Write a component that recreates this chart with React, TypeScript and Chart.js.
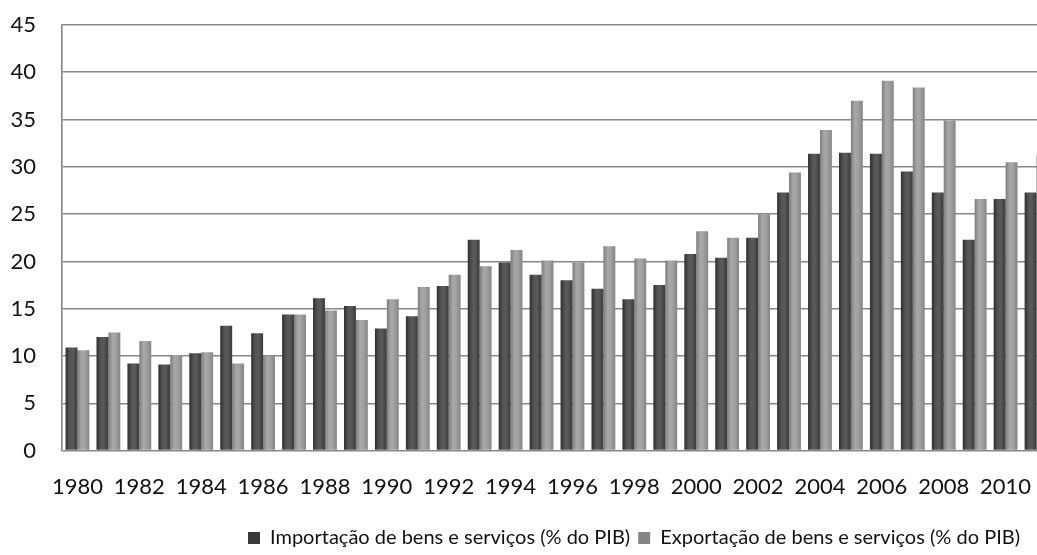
import React, { useEffect, useRef } from "react";
import { Chart, registerables } from "chart.js";
Chart.register(...registerables);

const years = [
  "1980", "1981", "1982", "1983", "1984", "1985", "1986", "1987",
  "1988", "1989", "1990", "1991", "1992", "1993", "1994", "1995",
  "1996", "1997", "1998", "1999", "2000", "2001", "2002", "2003",
  "2004", "2005", "2006", "2007", "2008", "2009", "2010", "2011",
];

const importacao = [
  10.9, 12.0, 9.2, 9.1, 10.3, 13.2, 12.4, 14.4,
  16.1, 15.3, 12.9, 14.2, 17.4, 22.3, 19.9, 18.6,
  18.0, 17.1, 16.0, 17.5, 20.8, 20.4, 22.5, 27.3,
  31.4, 31.5, 31.4, 29.5, 27.3, 22.3, 26.6, 27.3,
];

const exportacao = [
  10.6, 12.5, 11.6, 10.1, 10.4, 9.2, 10.0, 14.4,
  14.8, 13.8, 16.0, 17.3, 18.6, 19.5, 21.2, 20.1,
  19.9, 21.6, 20.3, 20.1, 23.2, 22.5, 25.0, 29.4,
  33.9, 37.0, 39.1, 38.4, 34.9, 26.6, 30.5, 31.2,
];

const seriesNames = [
  "Importação de bens e serviços (% do PIB)",
  "Exportação de bens e serviços (% do PIB)",
];

const FONT = "Lato";
const CAT_PCT = 0.77;

function cylinder(dark: boolean) {
  const solid = dark ? "#4a4a4a" : "#9a9a9a";
  const stops = dark
    ? ["#2e2e2e", "#555555", "#5a5a5a", "#3a3a3a"]
    : ["#7d7d7d", "#a8a8a8", "#a2a2a2", "#858585"];
  return (ctx: any) => {
    const chart = ctx.chart;
    const xs = chart.scales && chart.scales.x;
    if (ctx.type !== "data" || !xs || typeof ctx.dataIndex !== "number") return solid;
    const center = xs.getPixelForValue(ctx.dataIndex);
    const cat = xs.width / years.length;
    const bw = (cat * CAT_PCT) / 2;
    const left = dark ? center - bw : center;
    if (!isFinite(left) || !isFinite(bw) || bw <= 0) return solid;
    const g = chart.ctx.createLinearGradient(left, 0, left + bw, 0);
    g.addColorStop(0, stops[0]);
    g.addColorStop(0.35, stops[1]);
    g.addColorStop(0.6, stops[2]);
    g.addColorStop(1, stops[3]);
    return g;
  };
}

export default function App() {
  const ref = useRef<HTMLCanvasElement | null>(null);
  useEffect(() => {
    if (!ref.current) return;
    const chart = new Chart(ref.current, {
      type: "bar",
      data: {
        labels: years,
        datasets: [
          {
            label: seriesNames[0],
            data: importacao,
            backgroundColor: cylinder(true) as any,
            borderWidth: 0,
          },
          {
            label: seriesNames[1],
            data: exportacao,
            backgroundColor: cylinder(false) as any,
            borderWidth: 0,
          },
        ],
      },
      options: {
        responsive: false,
        animation: false,
        devicePixelRatio: 1,
        layout: { padding: { left: 10, top: 25, right: 0, bottom: -3 } },
        datasets: { bar: { categoryPercentage: CAT_PCT, barPercentage: 1 } },
        plugins: {
          tooltip: { enabled: false },
          legend: {
            position: "bottom",
            labels: {
              color: "#111111",
              font: { family: FONT, size: 20 },
              boxWidth: 12,
              boxHeight: 12,
              padding: 8,
            },
          },
        },
        scales: {
          x: {
            grid: { display: false, drawTicks: false },
            border: { display: false },
            afterFit: (s: any) => {
              s.height = s.height - 3;
            },
            ticks: {
              autoSkip: false,
              maxRotation: 0,
              minRotation: 0,
              padding: 23,
              color: "#111111",
              font: { family: FONT, size: 22 },
              callback: (_v: any, i: number) => (i % 2 === 0 ? years[i] : ""),
            },
          },
          y: {
            min: 0,
            max: 45,
            afterFit: (s: any) => {
              s.width = 52;
              s.paddingTop = 0;
              s.paddingBottom = 0;
            },
            grid: { color: "#878787", lineWidth: 1.6, drawTicks: false },
            border: { display: true, color: "#878787", width: 1.6 },
            ticks: {
              stepSize: 5,
              padding: 26,
              color: "#111111",
              font: { family: FONT, size: 22 },
            },
          },
          y2: {
            position: "right",
            min: 0,
            max: 1,
            afterFit: (s: any) => {
              s.width = 206;
              s.paddingTop = 0;
              s.paddingBottom = 0;
            },
            grid: { display: false },
            border: { display: false },
            ticks: { display: false },
          },
        },
      },
    });
    return () => chart.destroy();
  }, []);
  return (
    <div
      style={{
        position: "absolute",
        left: 0,
        top: 0,
        width: 1037,
        height: 555,
        overflow: "hidden",
        background: "#fff",
      }}
    >
      <canvas ref={ref} width={1258} height={555} style={{ display: "block" }} />
    </div>
  );
}
